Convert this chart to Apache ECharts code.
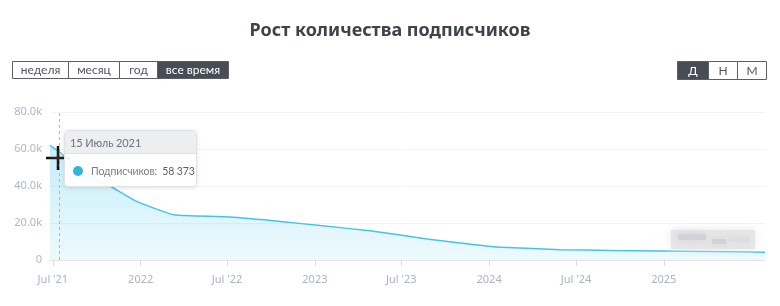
<!DOCTYPE html>
<html>
<head>
<meta charset="utf-8">
<script src="https://cdn.jsdelivr.net/npm/echarts@6/dist/echarts.min.js"></script>
<style>
html,body{margin:0;padding:0;background:#fff;}
#c{width:780px;height:306px;}
</style>
</head>
<body>
<div id="c"></div>
<script>
// ---- data ----
const dates = ['2021-06-25','2021-07-15','2021-08-16','2021-09-23','2021-10-31','2021-12-18','2022-02-12','2022-03-14','2022-07-07','2022-10-26','2023-01-12','2023-04-26','2023-08-24','2023-11-01','2024-01-09','2024-03-20','2024-05-29','2024-09-10','2024-12-24','2025-04-08','2025-08-01'];
const subscribers = [62000,58373,51000,44500,39600,32400,26700,24300,23200,20700,18600,15800,11400,9200,7200,6300,5600,5200,4900,4600,4200];
const xTickDates = ['2021-07-01','2022-01-01','2022-07-01','2023-01-01','2023-07-01','2024-01-01','2024-07-01','2025-01-01'];
const xTickLabels = ["Jul '21","2022","Jul '22","2023","Jul '23","2024","Jul '24","2025"];
const yTickLabels = {0:'0',20000:'20.0k',40000:'40.0k',60000:'60.0k',80000:'80.0k'};
const monthsRu = ['Январь','Февраль','Март','Апрель','Май','Июнь','Июль','Август','Сентябрь','Октябрь','Ноябрь','Декабрь'];
const rangeButtons = ['неделя','месяц','год','все время'];
const stepButtons = ['Д','Н','М'];
const seriesName = 'Подписчиков';
const titleText = 'Рост количества подписчиков';

const ts = s => { const [y,m,d] = s.split('-').map(Number); return Date.UTC(y,m-1,d); };
const seriesData = dates.map((d,i)=>[ts(d), subscribers[i]]);
const tickTs = xTickDates.map(ts);
const labelMap = {}; tickTs.forEach((t,i)=>labelMap[t]=xTickLabels[i]);

const FONT = '"Noto Sans", "Open Sans", sans-serif';
const SMALL = 'Lato, "Noto Sans", sans-serif';
const dark = '#474c55';

function buttonGroup(labels, xs, widths, y, h, activeIdx){
  const els = [];
  labels.forEach((lb,i)=>{
    const active = i===activeIdx;
    els.push({type:'rect', shape:{x:xs[i]+0.5,y:y+0.5,width:widths[i],height:h,r:0},
      style:{fill:active?dark:'#fff', stroke:'#5a5f67', lineWidth:1}, z:10});
    els.push({type:'text', x:xs[i]+widths[i]/2+0.5, y:y+h/2+1,
      style:{text:lb, fill:active?'#fff':'#50555d', font:'12px '+SMALL, align:'center', verticalAlign:'middle'}, z:11});
  });
  return els;
}
const leftXs=[12,68,119,157], leftW=[56,51,38,71];
const rightXs=[677,708,737], rightW=[31,29,29];

const chart = echarts.init(document.getElementById('c'), null, {renderer:'canvas'});
chart.setOption({
  animation:false,
  title:{text:titleText, left:'center', top:17,
    textStyle:{fontFamily:FONT, fontSize:18, fontWeight:'bold', color:'#3f434a'}},
  grid:{left:50, right:15, top:112, bottom:46},
  xAxis:{type:'value', min:ts(dates[0]), max:ts(dates[dates.length-1]),
    axisLine:{lineStyle:{color:'#e3e3e3'}},
    axisTick:{show:true, customValues:tickTs, length:6, lineStyle:{color:'#dcdcdc'}},
    axisLabel:{customValues:tickTs, formatter:v=>labelMap[v]||'', color:'#a9b2c6', fontSize:11, fontFamily:FONT, margin:14},
    splitLine:{show:false}},
  yAxis:{type:'value', min:0, max:80000, interval:20000,
    axisLine:{show:false}, axisTick:{show:false},
    axisLabel:{formatter:v=>yTickLabels[v], color:'#aeb6c8', fontSize:11, fontFamily:FONT, margin:8},
    splitLine:{lineStyle:{color:'#f3f3f3'}}},
  tooltip:{trigger:'axis', alwaysShowContent:true, triggerOn:'none',
    position:[64,130], padding:0, borderWidth:1, borderColor:'#e2e2e2',
    backgroundColor:'rgba(255,255,255,0.94)',
    extraCssText:'border-radius:4px;box-shadow:0 1px 4px rgba(0,0,0,0.12);overflow:hidden;',
    axisPointer:{type:'line', label:{show:false}, lineStyle:{color:'#b5b5b5', type:[3,3], width:1}},
    formatter:params=>{
      const p = params[0]; const d = new Date(p.value[0]);
      const head = d.getUTCDate()+' '+monthsRu[d.getUTCMonth()]+' '+d.getUTCFullYear();
      const val = String(p.value[1]).replace(/\B(?=(\d{3})+(?!\d))/g,' ');
      return '<div style="font-family:Lato,\'Noto Sans\',sans-serif;font-size:10.5px;letter-spacing:-0.1px;width:131px;">'+
        '<div style="background:#eceef0;color:#6f737a;font-size:11px;padding:5px 5px 4px 5px;border-bottom:1px solid #dfe1e3;height:13px;line-height:13px;">'+head+'</div>'+
        '<div style="padding:10px 4px 8px 8px;color:#7a7e85;white-space:nowrap;line-height:14px;">'+
        '<span style="display:inline-block;width:10px;height:10px;border-radius:5px;background:#36b3d8;vertical-align:-1px;margin-right:8px;"></span>'+
        seriesName+':&nbsp;&nbsp;<span style="color:#5a5e65;">'+val+'</span></div></div>';
    }},
  series:[{type:'line', name:seriesName, data:seriesData, smooth:0.15, showSymbol:false, symbol:'none',
    lineStyle:{color:'#3fb3d5', width:1.5},
    areaStyle:{color:new echarts.graphic.LinearGradient(0,0,0,1,[
      {offset:0,color:'rgba(54,179,216,0.42)'},{offset:1,color:'rgba(54,179,216,0.13)'}])}}],
  graphic:[].concat(
    buttonGroup(rangeButtons, leftXs, leftW, 61, 17, 3),
    buttonGroup(stepButtons, rightXs, rightW, 61, 18, 0),
    [
      {type:'rect', shape:{x:671,y:230,width:84,height:19}, style:{fill:'#e6e6e8', shadowBlur:10, shadowColor:'#e6e6e8'}, z:20},
      {type:'rect', shape:{x:678,y:234,width:28,height:6}, style:{fill:'#d3d3d7', shadowBlur:8, shadowColor:'#d3d3d7'}, z:21},
      {type:'rect', shape:{x:712,y:239,width:14,height:5}, style:{fill:'#d3d3d7', shadowBlur:8, shadowColor:'#d3d3d7'}, z:21},
      {type:'rect', shape:{x:728,y:237,width:22,height:5}, style:{fill:'#dedee1', shadowBlur:8, shadowColor:'#dedee1'}, z:21},
      {type:'line', shape:{x1:46,y1:158,x2:70,y2:158}, style:{stroke:'#111', lineWidth:2.5}, z:100},
      {type:'line', shape:{x1:58,y1:146,x2:58,y2:170}, style:{stroke:'#111', lineWidth:2.5}, z:100},
      {type:'line', shape:{x1:50,y1:158,x2:66,y2:158}, style:{stroke:'#5a2a1a', lineWidth:0.8}, z:101},
      {type:'line', shape:{x1:58,y1:150,x2:58,y2:166}, style:{stroke:'#5a2a1a', lineWidth:0.8}, z:101}
    ])
});
chart.dispatchAction({type:'showTip', seriesIndex:0, dataIndex:1});
</script>
</body>
</html>
